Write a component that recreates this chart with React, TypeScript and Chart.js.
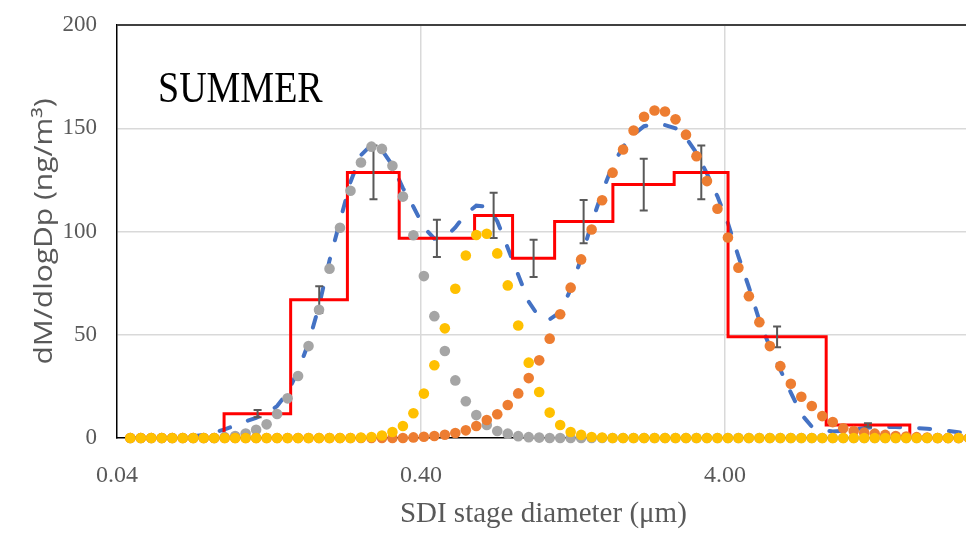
import React, { useEffect, useRef } from 'react';
import { Chart, registerables } from 'chart.js';

Chart.register(...registerables);

// ---- data ----
const panelLabel = 'SUMMER';
const yTitle = 'dM/dlogDp (ng/m³)';
const xTitle = 'SDI stage diameter (μm)';

const xTickValues = [0.04, 0.4, 4];
const xTickLabels = ['0.04', '0.40', '4.00'];

// particle diameter grid (μm) for the fitted mode curves
const diameters = [
  0.04424, 0.0479, 0.05185, 0.05614, 0.06078, 0.0658, 0.07124, 0.07713, 0.0835, 0.0904,
  0.09787, 0.10596, 0.11472, 0.1242, 0.13446, 0.14557, 0.1576, 0.17062, 0.18472, 0.19999,
  0.21651, 0.23441, 0.25378, 0.27475, 0.29746, 0.32204, 0.34866, 0.37747, 0.40866,
  0.4424, 0.479, 0.5185, 0.5614, 0.6078, 0.658, 0.7124, 0.7713, 0.835, 0.904,
  0.9787, 1.0596, 1.1472, 1.242, 1.3446, 1.4557, 1.576, 1.7062, 1.8472, 1.9999,
  2.1651, 2.3441, 2.5378, 2.7475, 2.9746, 3.2204, 3.4866, 3.7747, 4.0866,
  4.424, 4.79, 5.185, 5.614, 6.078, 6.58, 7.124, 7.713, 8.35, 9.04,
  9.787, 10.596, 11.472, 12.42, 13.446, 14.557, 15.76, 17.062, 18.472, 19.999,
  21.651, 23.441, 25.378,
];

// grey dots: fine mode
const modeFine = [
  0, 0, 0, 0, 0, 0, 0, 0, 0,
  0.4, 1.0, 2.2, 4.0, 6.6, 11.6, 19.2, 30.0, 44.5, 62.1, 82.0,
  101.8, 119.7, 133.4, 141.1, 140.0, 131.8, 116.9, 98.2, 78.4, 59.0,
  42.1, 27.9, 17.8, 11.1, 6.3, 3.4, 2.1, 0.9, 0.4, 0.2,
  0, 0, 0, 0, 0, 0, 0, 0, 0, 0, 0, 0, 0, 0, 0, 0, 0, 0, 0, 0,
  0, 0, 0, 0, 0, 0, 0, 0, 0, 0, 0, 0, 0, 0, 0, 0, 0, 0, 0, 0, 0,
];

// yellow dots: intermediate mode
const modeMid = [
  0, 0, 0, 0, 0, 0, 0, 0, 0, 0, 0, 0, 0, 0, 0, 0, 0, 0, 0, 0, 0, 0,
  0.2, 0.5, 1.2, 2.9, 5.8, 12.0, 21.5, 35.2, 53.1, 72.3, 88.4, 98.3,
  98.9, 89.4, 73.9, 54.5, 36.5, 22.3, 12.3, 6.3, 2.9, 1.5, 0.5, 0.2,
  0, 0, 0, 0, 0, 0, 0, 0, 0, 0, 0, 0, 0, 0, 0, 0, 0, 0, 0, 0,
  0, 0, 0, 0, 0, 0, 0, 0, 0, 0, 0, 0, 0, 0, 0,
];

// orange dots: coarse mode
const modeCoarse = [
  0, 0, 0, 0, 0, 0, 0, 0, 0, 0, 0, 0, 0, 0, 0, 0, 0, 0, 0, 0, 0, 0, 0, 0, 0, 0, 0,
  0.3, 0.6, 1.0, 1.6, 2.4, 3.7, 5.8, 8.7, 11.5, 16.0,
  21.6, 29.0, 37.6, 48.1, 59.9, 72.8, 86.5, 101.0, 115.1, 128.5,
  139.7, 148.9, 155.6, 158.6, 158.1, 154.3, 146.9, 136.5, 124.4, 111.0,
  97.1, 82.5, 68.7, 56.1, 44.5, 34.8, 26.3, 20.0, 15.5, 10.6,
  7.7, 4.7, 3.4, 2.6, 2.1, 1.5, 1.0, 0.7, 0.4, 0.2,
  0, 0, 0, 0,
];

// blue dashed: total fitted distribution
const totalFit = [
  0, 0, 0, 0, 0,
  0.3, 0.8, 1.5, 2.6, 4.2, 6.0, 8.0, 9.8, 11.8, 15.5,
  22.0, 32.5, 46.0, 64.0, 86.0, 105.0, 124.0, 137.0, 142.0, 139.5,
  132.0, 121.0, 112.0, 102.0, 96.5, 97.0, 102.0, 108.5, 112.5, 112.0,
  105.0, 92.0, 79.0, 66.0, 58.5, 57.5, 61.0, 72.0, 87.0, 104.0,
  119.0, 132.0, 141.0, 147.0, 151.0, 152.0, 151.5, 150.0, 145.5, 138.0,
  128.0, 117.0, 104.0, 88.0, 73.0, 57.0, 44.0, 33.0, 22.0, 11.5,
  5.5, 3.8, 3.2, 3.5, 4.2, 4.8, 5.2, 5.4, 5.3, 5.1,
  4.8, 4.5, 4.0, 3.4, 2.8, 2.2,
];

// SDI stages (red step line + error bars)
const stageLower = [0.09, 0.149, 0.229, 0.339, 0.6, 0.8, 1.1, 1.71, 2.72, 4.09, 8.6];
const stageUpperLast = 16.2;
const stageMass = [11.8, 67, 128.6, 96.7, 107.8, 87, 104.8, 122.7, 128.6, 49, 6.3];
const stageMid = [0.116, 0.185, 0.279, 0.451, 0.693, 0.938, 1.37, 2.16, 3.34, 5.93, 11.8];
const stageSD = [1.8, 6.5, 13, 9, 11, 9, 10.5, 12.5, 13, 5, 0.8];

const SERIF = '"Liberation Serif", "Times New Roman", serif';
const SANS = '"Open Sans", "DejaVu Sans", sans-serif';
const RED_INDEX = 3;

const toPoints = (ys: number[]) => diameters.map((x, i) => ({ x, y: ys[i] }));

const stepPoints = () => {
  const pts = [{ x: stageLower[0], y: 0 }];
  stageLower.forEach((x, i) => pts.push({ x, y: stageMass[i] }));
  pts.push({ x: stageUpperLast, y: 0 });
  return pts;
};

const framePlugin = {
  id: 'frameTop',
  beforeDatasetsDraw(chart: any) {
    const { ctx, chartArea } = chart;
    ctx.save();
    ctx.strokeStyle = '#404040';
    ctx.lineWidth = 2;
    ctx.beginPath();
    ctx.moveTo(chartArea.left, chartArea.top);
    ctx.lineTo(chartArea.right, chartArea.top);
    ctx.stroke();
    ctx.restore();
  },
};

const errorBarPlugin = {
  id: 'errorBars',
  afterDatasetDraw(chart: any, args: any) {
    if (args.index !== RED_INDEX) return;
    const { ctx } = chart;
    const xs = chart.scales.x;
    const ys = chart.scales.y;
    ctx.save();
    ctx.strokeStyle = '#595959';
    ctx.lineWidth = 2;
    stageMid.forEach((m, i) => {
      const px = xs.getPixelForValue(m);
      const top = ys.getPixelForValue(stageMass[i] + stageSD[i]);
      const bot = ys.getPixelForValue(Math.max(0, stageMass[i] - stageSD[i]));
      ctx.beginPath();
      ctx.moveTo(px, top);
      ctx.lineTo(px, bot);
      ctx.moveTo(px - 4, top);
      ctx.lineTo(px + 4, top);
      ctx.moveTo(px - 4, bot);
      ctx.lineTo(px + 4, bot);
      ctx.stroke();
    });
    ctx.restore();
  },
};

const textPlugin = {
  id: 'panelText',
  afterDraw(chart: any) {
    const { ctx, chartArea } = chart;
    ctx.save();
    ctx.fillStyle = '#000000';
    ctx.font = `38px ${SERIF}`;
    ctx.textAlign = 'left';
    ctx.textBaseline = 'alphabetic';
    ctx.translate(chartArea.left + 41, chartArea.top + 76.7);
    ctx.scale(1, 1.19);
    ctx.fillText(panelLabel, 0, 0);
    ctx.restore();

    ctx.save();
    ctx.fillStyle = '#595959';
    ctx.font = `25px ${SANS}`;
    ctx.textAlign = 'center';
    ctx.textBaseline = 'alphabetic';
    ctx.translate(52, (chartArea.top + chartArea.bottom) / 2);
    ctx.rotate(-Math.PI / 2);
    ctx.scale(1.2, 1);
    ctx.fillText(yTitle, 0, 0);
    ctx.restore();
  },
};

export default function App() {
  const canvasRef = useRef<HTMLCanvasElement | null>(null);

  useEffect(() => {
    const canvas = canvasRef.current;
    if (!canvas) return;
    const dot = (data: number[], color: string, label: string) => ({
      label,
      data: toPoints(data),
      showLine: false,
      clip: false,
      pointRadius: 5.3,
      pointHoverRadius: 5.3,
      pointBorderWidth: 0,
      pointBackgroundColor: color,
      borderColor: color,
      backgroundColor: color,
    });
    const chart = new Chart(canvas, {
      type: 'line',
      data: {
        datasets: [
          dot(modeMid, '#FFC000', 'Mode 2'),
          dot(modeCoarse, '#ED7D31', 'Mode 3'),
          dot(modeFine, '#A5A5A5', 'Mode 1'),
          {
            label: 'SDI',
            data: stepPoints(),
            stepped: true,
            borderColor: '#FF0000',
            borderWidth: 3,
            pointRadius: 0,
            fill: false,
          },
          {
            label: 'Fit',
            data: toPoints(totalFit),
            borderColor: '#4472C4',
            borderWidth: 4,
            borderDash: [11, 19],
            borderCapStyle: 'round',
            pointRadius: 0,
            tension: 0,
            fill: false,
          },
        ] as any,
      },
      options: {
        responsive: false,
        animation: false,
        devicePixelRatio: 1,
        layout: { padding: { top: 25, left: 0, right: 0, bottom: 0 } },
        plugins: { legend: { display: false }, tooltip: { enabled: false } },
        scales: {
          x: {
            type: 'logarithmic',
            min: 0.04,
            max: 25.5,
            afterBuildTicks: (s: any) => {
              s.ticks = xTickValues.map((v) => ({ value: v }));
            },
            afterFit: (s: any) => {
              s.height = 96;
              s.paddingLeft = 0;
              s.paddingRight = 0;
              s.paddingTop = 0;
              s.paddingBottom = 0;
            },
            ticks: {
              autoSkip: false,
              maxRotation: 0,
              padding: 23,
              color: '#595959',
              font: { family: SERIF, size: 24 },
              callback: (_v: any, i: number) => xTickLabels[i] ?? '',
            },
            grid: {
              color: (c: any) => (c.tick && c.tick.value === xTickValues[0] ? 'rgba(0,0,0,0)' : '#D9D9D9'),
              lineWidth: 1.5,
              drawTicks: false,
            },
            border: { display: true, color: '#000000', width: 1.5 },
            title: {
              display: true,
              text: xTitle,
              color: '#595959',
              font: { family: SERIF, size: 29, lineHeight: 1.2 },
              padding: { top: 0, bottom: 2 },
            },
          },
          y: {
            type: 'linear',
            min: 0,
            max: 200,
            afterFit: (s: any) => {
              s.width = 117;
              s.paddingLeft = 0;
              s.paddingRight = 0;
              s.paddingTop = 0;
              s.paddingBottom = 0;
            },
            ticks: {
              stepSize: 50,
              padding: 20,
              color: '#595959',
              font: { family: SERIF, size: 23 },
            },
            grid: {
              color: (c: any) =>
                c.tick && (c.tick.value === 0 || c.tick.value === 200) ? 'rgba(0,0,0,0)' : '#D9D9D9',
              lineWidth: 1.5,
              drawTicks: false,
            },
            border: { display: true, color: '#000000', width: 1.5 },
          },
        },
      } as any,
      plugins: [framePlugin, errorBarPlugin, textPlugin],
    });
    return () => chart.destroy();
  }, []);

  return (
    <div
      style={{
        position: 'fixed',
        left: 0,
        top: 0,
        width: 966,
        height: 534,
        overflow: 'hidden',
        background: '#ffffff',
      }}
    >
      <canvas ref={canvasRef} width={975} height={534} style={{ display: 'block' }} />
    </div>
  );
}
